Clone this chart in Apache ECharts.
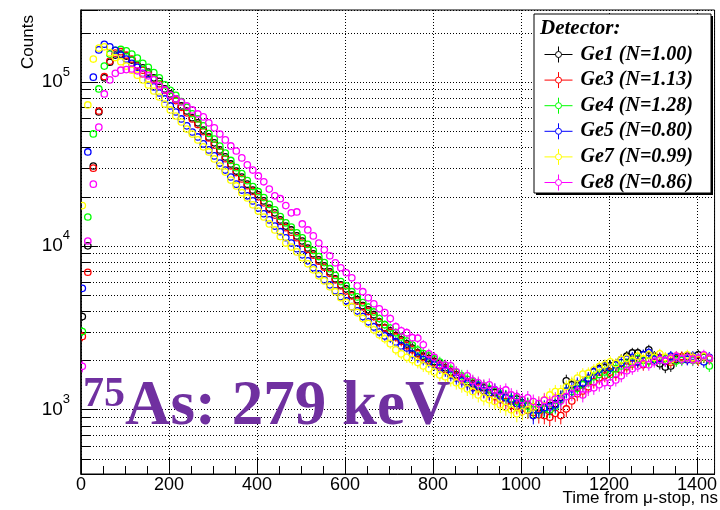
<!DOCTYPE html>
<html><head><meta charset="utf-8">
<script src="https://cdn.jsdelivr.net/npm/echarts@6/dist/echarts.min.js"></script>
<style>html,body{margin:0;padding:0;background:#fff}#c{width:720px;height:510px}</style>
</head><body><div id="c"></div>
<script>
// Histogram bins (ns): centre of first bin and bin width
const binStart = 3, binWidth = 12.5;
// Counts per bin for each detector
const ge1 = [3700,10000,30700,65600,106000,132000,146000,148000,144000,136000,127000,122000,115000,106000,101000,90700,84500,78800,71400,66500,60500,56300,50900,46200,42500,38500,34900,31600,28600,26300,23800,21900,20500,18800,17000,15900,14400,13200,12500,11500,10700,9700,8940,8220,7550,6940,6290,5780,5460,5020,4690,4310,4070,3800,3440,3160,3030,2830,2670,2520,2380,2220,2120,2060,1970,1880,1800,1700,1630,1560,1480,1440,1380,1360,1320,1270,1230,1190,1130,1160,1100,1070,1040,1030,1010,1060,1090,1190,1500,1420,1400,1440,1540,1700,1780,1800,1850,1880,2020,2120,2220,2220,2160,2320,2120,1910,1820,1850,2020,2090,2120,2090,2160,2090,2060];
const ge3 = [2800,6900,29800,66500,108000,134000,150000,153000,146000,138000,125000,118000,112000,104000,97500,89000,82000,77000,70000,64800,59500,55000,49800,45500,41200,37600,34000,30800,28000,25600,23300,21500,19900,18300,16700,15400,14100,12900,12100,11200,10400,9500,8760,8050,7400,6800,6200,5700,5300,4950,4600,4250,3980,3700,3400,3150,2950,2780,2610,2460,2320,2190,2080,2000,1930,1850,1760,1680,1600,1530,1460,1400,1350,1300,1250,1200,1150,1120,1060,1050,1020,990,960,930,920,900,950,920,1010,1130,1250,1300,1380,1480,1560,1610,1700,1640,1760,1830,1900,1950,1880,1990,2030,2080,1990,1950,2060,2110,2030,2070,2000,2100,2040];
const ge4 = [3000,15000,48200,90700,125000,148000,156000,158000,155000,148000,140000,130000,123000,114000,106000,96000,89000,83000,76000,70000,64000,59500,54000,48500,44800,40600,36800,33200,30000,27600,25000,23000,21400,19700,17900,16600,15100,13800,13000,12000,11200,10200,9350,8600,7900,7250,6600,6050,5700,5250,4880,4500,4230,3950,3600,3300,3150,2950,2780,2620,2480,2310,2200,2130,2040,1950,1860,1760,1690,1610,1530,1480,1420,1390,1340,1300,1250,1200,1170,1120,1080,1050,1000,990,1010,1000,1050,1150,1300,1290,1350,1420,1500,1590,1640,1700,1640,1780,1850,1900,1960,2050,2000,1980,2050,2000,2050,2100,1980,2000,2080,2000,2040,2100,1850];
const ge5 = [5500,37400,107000,157000,170000,164000,156000,146000,138000,130000,123000,113000,103000,93300,85700,78800,71400,65600,59500,54000,49500,46200,41900,38500,35400,32000,29000,26300,23800,21900,20200,18800,17000,15700,14400,13200,12200,11200,10400,9600,8810,8100,7350,6750,6200,5780,5320,4890,4620,4250,4010,3700,3440,3200,2980,2820,2740,2590,2450,2380,2190,2090,2020,1960,1880,1800,1730,1630,1560,1500,1440,1360,1400,1300,1270,1320,1210,1180,1150,1090,1060,1000,920,1000,1030,1040,1070,1180,1300,1340,1440,1460,1560,1700,1750,1850,1800,1880,1940,2040,2090,1960,2160,2230,2020,2060,1990,2120,2090,2040,2020,2120,2060,1960,2090];
const ge7 = [17600,72400,138000,161000,164000,151000,141000,133000,125000,118000,110000,103000,95900,88100,81000,73400,67500,62000,57000,51600,48100,44300,40200,37400,33900,30700,28200,25200,23200,21100,19600,17800,16300,15000,13600,12500,11400,10400,9830,9180,8460,7770,7140,6560,6110,5630,5250,4820,4500,4250,3910,3600,3350,3070,2870,2710,2530,2320,2190,2090,2020,1940,1850,1780,1700,1630,1590,1520,1460,1400,1340,1290,1230,1180,1150,1120,1070,1030,1000,945,970,1000,1040,1090,1150,1230,1290,1290,1380,1460,1560,1650,1670,1750,1830,1880,1960,1910,2020,2060,1990,2120,2040,2160,2090,2190,2090,2020,2120,2060,2160,2090,2040,2120,2060];
const ge8 = [1840,10700,23800,53000,84500,103000,113000,118000,119000,120000,117000,112000,109000,103000,94500,89400,83300,78800,75500,71400,67500,63800,61200,56300,52500,48100,44300,40700,37900,34400,31200,29000,26700,24600,22200,20200,19400,17600,15900,16100,13600,12500,11500,10400,9460,8690,7880,7350,6850,6380,5700,5250,4820,4430,4130,3910,3600,3210,3030,2950,2750,2730,2490,2190,2090,1880,1870,1850,1700,1560,1610,1500,1460,1400,1420,1320,1290,1320,1230,1200,1150,1180,1120,1090,1140,1100,1160,1130,1200,1250,1290,1230,1340,1360,1420,1460,1460,1520,1610,1730,1780,1850,1910,1880,1960,2020,1990,2060,2120,2040,2090,2020,2060,2160,2060];

const detectorNames = ['Ge1 (N=1.00)','Ge3 (N=1.13)','Ge4 (N=1.28)','Ge5 (N=0.80)','Ge7 (N=0.99)','Ge8 (N=0.86)'];
const detectorColors = ['#000000','#ff0000','#00ff00','#0000ff','#ffff00','#ff00ff'];
const detectorData = [ge1, ge3, ge4, ge5, ge7, ge8];
const errScale = 3.5; // statistical error bar scale (x sqrt(counts))

// Axis ranges and ticks
const xMin = 0, xMax = 1440, xStep = 200;
const yMin = 405, yMax = 275000;
const xMinorTicks = [50,100,150,250,300,350,450,500,550,650,700,750,850,900,950,1050,1100,1150,1250,1300,1350];
const yMinorTicks = [500,600,700,800,900,2000,3000,4000,5000,6000,7000,8000,9000,20000,30000,40000,50000,60000,70000,80000,90000,200000];

const chart = echarts.init(document.getElementById('c'), null, {renderer: 'canvas'});

const iconPath = 'path://M0,8L11,8M17,8L28,8M14,0L14,5M14,11L14,16M17,8A3,3,0,1,1,11,8A3,3,0,1,1,17,8';

function pointRender(params, api) {
  const x = api.value(0), v = api.value(1), e = api.value(2);
  const col = api.visual('color');
  const c = api.coord([x, v]);
  const top = api.coord([x, v + e]);
  const bot = api.coord([x, Math.max(v - e, 1)]);
  const r = 3.2;
  const ch = [{type: 'circle', shape: {cx: c[0], cy: c[1], r: r}, style: {fill: 'none', stroke: col, lineWidth: 1.3}}];
  if (c[1] - top[1] > r) ch.push({type: 'line', shape: {x1: c[0], y1: top[1], x2: c[0], y2: c[1] - r}, style: {stroke: col, lineWidth: 1}});
  if (bot[1] - c[1] > r) ch.push({type: 'line', shape: {x1: c[0], y1: c[1] + r, x2: c[0], y2: bot[1]}, style: {stroke: col, lineWidth: 1}});
  return {type: 'group', children: ch};
}

const series = [];
// minor y gridlines + ticks
series.push({
  type: 'custom', name: 'yMinor', silent: true, z: 1, clip: false,
  data: yMinorTicks.map(v => [xMin, v]),
  encode: {x: 0, y: 1},
  renderItem: function (params, api) {
    const v = api.value(1);
    const p0 = api.coord([xMin, v]);
    const p1 = api.coord([xMax, v]);
    const y = Math.round(p0[1]) + 0.5;
    return {type: 'group', children: [
      {type: 'line', shape: {x1: p0[0], y1: y, x2: p1[0], y2: y}, style: {stroke: '#000', lineWidth: 1, lineDash: [1, 2]}},
      {type: 'line', shape: {x1: p0[0], y1: y, x2: p0[0] + 9, y2: y}, style: {stroke: '#000', lineWidth: 1}}
    ]};
  }
});
// minor x ticks
series.push({
  type: 'custom', name: 'xMinor', silent: true, z: 1, clip: false,
  data: xMinorTicks.map(t => [t, yMin]),
  encode: {x: 0, y: 1},
  renderItem: function (params, api) {
    const p = api.coord([api.value(0), yMin]);
    const x = Math.round(p[0]) + 0.5;
    return {type: 'line', shape: {x1: x, y1: p[1], x2: x, y2: p[1] - 8}, style: {stroke: '#000', lineWidth: 1}};
  }
});
detectorData.forEach((arr, k) => {
  series.push({
    type: 'custom', name: detectorNames[k], z: 2 + k, clip: true,
    itemStyle: {color: detectorColors[k]},
    data: arr.map((v, i) => [binStart + i * binWidth, v, errScale * Math.sqrt(v)]),
    encode: {x: 0, y: 1},
    renderItem: pointRender
  });
});

const option = {
  animation: false,
  backgroundColor: '#fff',
  grid: {left: 81, right: 2, top: 10, bottom: 36, show: true, borderColor: '#000', borderWidth: 1, backgroundColor: 'transparent'},
  xAxis: {
    type: 'value', min: xMin, max: xMax, interval: xStep,
    axisLine: {show: true, lineStyle: {color: '#000', width: 1}},
    axisTick: {show: true, inside: true, length: 16, lineStyle: {color: '#000'}},
    axisLabel: {show: true, showMaxLabel: false, margin: 2, color: '#000', fontSize: 18, fontFamily: 'Liberation Sans',
      formatter: v => (v % xStep === 0 ? String(v) : '')},
    splitLine: {show: true, lineStyle: {color: '#000', type: [1, 2], width: 1}}
  },
  yAxis: {
    type: 'log', logBase: 10, min: yMin, max: yMax,
    axisLine: {show: true, lineStyle: {color: '#000', width: 1.5}},
    axisTick: {show: true, inside: true, length: 17, lineStyle: {color: '#000'}},
    axisLabel: {
      show: true, margin: 11, color: '#000',
      formatter: function (v) {
        const l = Math.log10(v);
        if (Math.abs(l - Math.round(l)) > 1e-6) return '';
        return '{b|10}{s|' + Math.round(l) + '}';
      },
      rich: {
        b: {fontSize: 19, fontFamily: 'Liberation Sans', color: '#000'},
        s: {fontSize: 13, fontFamily: 'Liberation Sans', color: '#000', padding: [0, 0, 20, 0]}
      }
    },
    splitLine: {show: true, lineStyle: {color: '#000', type: [1, 2], width: 1}}
  },
  legend: {
    orient: 'vertical', left: 537, top: 39, z: 6, selectedMode: false,
    itemWidth: 28, itemHeight: 16, itemGap: 4.6,
    textStyle: {fontFamily: 'Liberation Serif', fontWeight: 'bold', fontStyle: 'italic', fontSize: 20, color: '#000', padding: [0, 0, 0, 3], lineHeight: 20},
    data: detectorNames.map((n, k) => ({name: n, icon: iconPath, itemStyle: {color: 'none', borderColor: detectorColors[k], borderWidth: 1}}))
  },
  graphic: [
    {type: 'rect', z: 5, shape: {x: 536, y: 16, width: 177, height: 179}, style: {fill: '#000'}},
    {type: 'rect', z: 5, shape: {x: 534, y: 14, width: 177, height: 179}, style: {fill: '#fff', stroke: '#000', lineWidth: 1}},
    {type: 'text', z: 6, x: 540, y: 29, style: {text: 'Detector:', font: 'italic bold 21px "Liberation Serif"', fill: '#000', align: 'left', verticalAlign: 'middle'}},
    {type: 'text', z: 6, x: 28, y: 42, rotation: Math.PI / 2, style: {text: 'Counts', font: '17px "Liberation Sans"', fill: '#000', align: 'center', verticalAlign: 'middle'}},
    {type: 'text', z: 6, x: 718, y: 498, style: {text: 'Time from \u03bc-stop, ns', font: '17px "Liberation Sans"', fill: '#000', align: 'right', verticalAlign: 'middle'}},
    {type: 'text', z: 7, x: 83, y: 395, style: {text: '75', font: 'bold 42px "Liberation Serif"', fill: '#7030a0', align: 'left', verticalAlign: 'middle'}},
    {type: 'text', z: 7, x: 125, y: 408, style: {text: 'As: 279 keV', font: 'bold 63px "Liberation Serif"', fill: '#7030a0', align: 'left', verticalAlign: 'middle'}}
  ],
  series: series
};
chart.setOption(option);
</script>
</body></html>
